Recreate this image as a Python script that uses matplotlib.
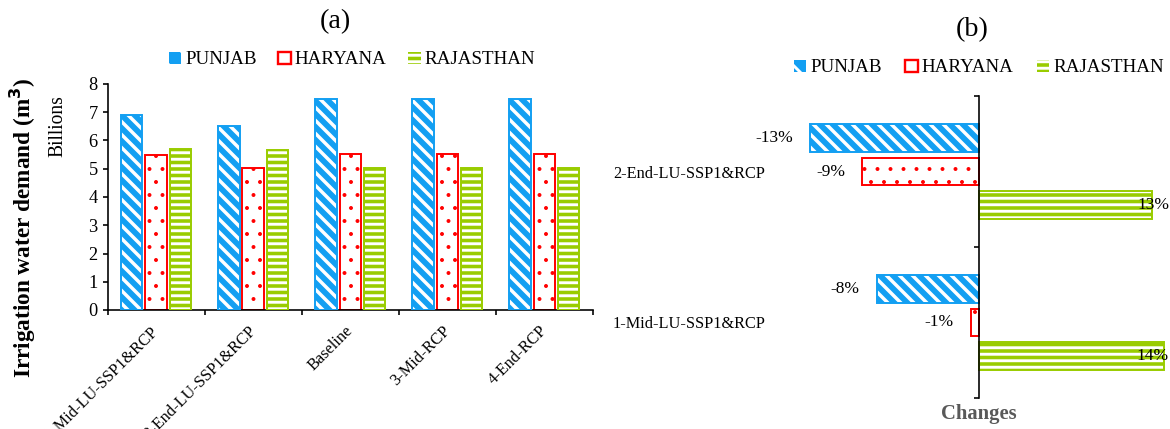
import matplotlib
matplotlib.use("Agg")
import matplotlib.pyplot as plt
import numpy as np
from matplotlib.patches import Patch
from matplotlib import transforms

plt.rcParams['font.family'] = ['Liberation Serif', 'DejaVu Serif']
plt.rcParams['hatch.linewidth'] = 2.7

# ---------------- data ----------------
scenarios = ["1-Mid-LU-SSP1&RCP", "2-End-LU-SSP1&RCP", "Baseline", "3-Mid-RCP", "4-End-RCP"]
states = ["PUNJAB", "HARYANA", "RAJASTHAN"]
punjab = [6.9, 6.52, 7.48, 7.48, 7.48]
haryana = [5.48, 5.04, 5.52, 5.52, 5.52]
rajasthan = [5.7, 5.66, 5.02, 5.02, 5.02]

change_cats = ["1-Mid-LU-SSP1&RCP", "2-End-LU-SSP1&RCP"]
punjab_chg = [-7.8, -12.9]
haryana_chg = [-0.6, -8.9]
rajasthan_chg = [14.1, 13.2]

BLUE = '#139FF2'
RED = '#FF0000'
GREEN = '#99CC00'
P_HATCH = '\\\\'
R_HATCH = '--'

fig = plt.figure(figsize=(15, 5.5), dpi=78)

# ---------------- panel (a) ----------------
ax = fig.add_axes([107.5/1170, 1-310/429, (593-107.5)/1170, (310-84)/429])
x = np.arange(len(scenarios))
w = 0.22
step = 0.25
with plt.rc_context({'hatch.linewidth': 3.2}):
    ax.bar(x - step, punjab, w, color=BLUE, edgecolor='white', hatch=P_HATCH, linewidth=0, zorder=2)
ax.bar(x - step, punjab, w, fill=False, edgecolor=BLUE, linewidth=1.8, zorder=3)
with plt.rc_context({'hatch.linewidth': 1.2}):
    ax.bar(x, haryana, w, facecolor='white', edgecolor=RED, hatch='.', linewidth=1.8, zorder=2)
ax.bar(x + step, rajasthan, w, color=GREEN, edgecolor='white', hatch=R_HATCH, linewidth=0, zorder=2)
ax.bar(x + step, rajasthan, w, fill=False, edgecolor=GREEN, linewidth=1.8, zorder=3)

ax.set_xlim(-0.5, len(scenarios) - 0.5)
ax.set_ylim(0, 8)
ax.set_yticks(range(0, 9))
ax.tick_params(axis='y', direction='out', length=5, width=1.5, labelsize=17, pad=4)
# category labels (invisible major ticks, nudged slightly right like the original)
ax.set_xticks(x + 0.06)
ax.set_xticklabels(scenarios, rotation=45, ha='right', fontsize=15)
ax.set_xticks(np.arange(-0.5, len(scenarios)), minor=True)
ax.tick_params(axis='x', which='major', length=0, pad=12)
ax.tick_params(axis='x', which='minor', direction='out', length=5, width=1.5)
for s in ['top', 'right']:
    ax.spines[s].set_visible(False)
for s in ['left', 'bottom']:
    ax.spines[s].set_linewidth(1.5)

fig.text(58/1170, 1-126/429, "Billions", rotation=90, ha='center', va='center', fontsize=18)
fig.text(23/1170, 1-228/429, "Irrigation water demand (m$^\\mathbf{3}$)", rotation=90,
         ha='center', va='center', fontsize=21.5, fontweight='bold')
fig.text(335/1170, 1-22/429, "(a)", ha='center', va='center', fontsize=26)

def legend_handles():
    return [Patch(facecolor=BLUE, edgecolor='white', hatch='\\', linewidth=0),
            Patch(facecolor='white', edgecolor=RED, linewidth=2.2),
            Patch(facecolor=GREEN, edgecolor='white', hatch='--', linewidth=0)]

fig.legend(legend_handles(), states, loc='center', bbox_to_anchor=(352/1170, 1-60/429), ncol=3,
           frameon=False, fontsize=17.5, handlelength=0.65, handleheight=0.65,
           handletextpad=0.2, columnspacing=1.15, borderpad=0)

# ---------------- panel (b) ----------------
bx = fig.add_axes([789/1170, 1-398/429, (1169-789)/1170, (398-96)/429])
y = np.arange(len(change_cats)) + 0.5
hb = 0.185
stp = 0.222
with plt.rc_context({'hatch.linewidth': 3.2}):
    bx.barh(y + stp, punjab_chg, hb, color=BLUE, edgecolor='white', hatch=P_HATCH, linewidth=0, zorder=2)
bx.barh(y + stp, punjab_chg, hb, fill=False, edgecolor=BLUE, linewidth=1.8, zorder=3)
with plt.rc_context({'hatch.linewidth': 1.2}):
    bx.barh(y, haryana_chg, hb, facecolor='white', edgecolor=RED, hatch='.', linewidth=1.8, zorder=2)
bx.barh(y - stp, rajasthan_chg, hb, color=GREEN, edgecolor='white', hatch=R_HATCH, linewidth=0, zorder=2)
bx.barh(y - stp, rajasthan_chg, hb, fill=False, edgecolor=GREEN, linewidth=1.8, zorder=3)

bx.set_xlim(-14.5, 14.5)
bx.set_ylim(0, len(change_cats))
for s in ['top', 'right', 'bottom', 'left']:
    bx.spines[s].set_visible(False)
bx.set_xticks([])
bx.set_yticks(y)
bx.set_yticklabels(change_cats, fontsize=15)
bx.tick_params(axis='y', length=0, pad=22)
bx.set_xlabel("Changes", fontsize=19, fontweight='bold', color='#595959', labelpad=6)

bx2 = bx.twinx()
bx2.set_ylim(0, len(change_cats))
for s in ['top', 'left', 'bottom']:
    bx2.spines[s].set_visible(False)
bx2.spines['right'].set_position(('data', 0))
bx2.spines['right'].set_linewidth(1.5)
bx2.set_yticks(np.arange(0, len(change_cats) + 1))
bx2.set_yticklabels([])
bx2.tick_params(axis='y', direction='in', length=5, width=1.5)

trans_r = transforms.blended_transform_factory(bx.transAxes, bx.transData)
for vals, off in [(punjab_chg, stp), (haryana_chg, 0), (rajasthan_chg, -stp)]:
    for yi, v in zip(y, vals):
        lab = f"{round(v):d}%"
        if v < 0:
            bx.annotate(lab, (v, yi + off), xytext=(-16, 0), textcoords='offset points',
                        ha='right', va='center', fontsize=16, zorder=5)
        else:
            bx.text(1.0, yi + off, lab, transform=trans_r, ha='right', va='center',
                    fontsize=16, zorder=5)

fig.text(972/1170, 1-30/429, "(b)", ha='center', va='center', fontsize=26)
fig.legend(legend_handles(), states, loc='center', bbox_to_anchor=(979/1170, 1-68/429), ncol=3,
           frameon=False, fontsize=17.5, handlelength=0.65, handleheight=0.65,
           handletextpad=0.2, columnspacing=1.25, borderpad=0)

fig.savefig("out.png", dpi=78)
